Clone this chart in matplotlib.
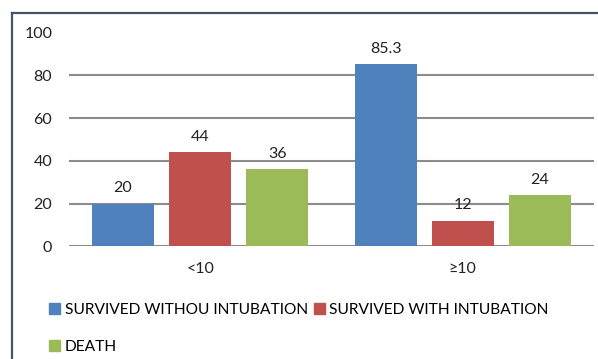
import matplotlib.pyplot as plt
import numpy as np
from matplotlib.patches import Patch

plt.rcParams["font.family"] = ["Lato", "DejaVu Sans"]

# Outcome percentages grouped by score band
groups = ["<10", "\u226510"]
series_names = ["SURVIVED WITHOU INTUBATION", "SURVIVED WITH INTUBATION", "DEATH"]
survived_without = [20, 85.3]
survived_with = [44, 12]
death = [36, 24]
value_labels = [["20", "85.3"], ["44", "12"], ["36", "24"]]
colors = ["#4f81bd", "#c0504d", "#9bbb59"]

FS = 11.5
W, H = 598, 359
fig = plt.figure(figsize=(W / 100, H / 100), dpi=100)
ax = fig.add_axes([69 / W, (H - 246.3) / H, (594 - 69) / W, (246.3 - 32.5) / H])

# frame around the chart area (top and left edges show)
fig.add_artist(plt.Line2D([12 / W, 12 / W], [0, (H - 13) / H], color="#44546a",
                          lw=1.6, transform=fig.transFigure))
fig.add_artist(plt.Line2D([12 / W, 1], [(H - 13) / H, (H - 13) / H], color="#44546a",
                          lw=1.6, transform=fig.transFigure))

x = np.arange(len(groups))
width = 0.236
offsets = [-0.294, 0, 0.294]
for vals, labels, off, col in zip([survived_without, survived_with, death],
                                  value_labels, offsets, colors):
    bars = ax.bar(x + off, vals, width, color=col, zorder=3)
    for b, v, lab in zip(bars, vals, labels):
        ax.annotate(lab, (b.get_x() + b.get_width() / 2, v), xytext=(0, 6),
                    textcoords="offset points", ha="center", va="bottom",
                    fontsize=FS, color="#222222")

ax.set_xlim(-0.5, 1.5)
ax.set_ylim(0, 100)
ax.set_yticks(range(0, 101, 20))
ax.set_xticks(x)
ax.set_xticklabels(groups)
ax.yaxis.grid(True, color="#8c8c8c", lw=1.5, zorder=0)
for s in ax.spines.values():
    s.set_visible(False)
ax.tick_params(axis="both", length=0, labelsize=FS, colors="#222222")
ax.tick_params(axis="y", pad=12)
ax.tick_params(axis="x", pad=11)

handles = [Patch(color=c) for c in colors]
order = [0, 2, 1]
fig.legend([handles[i] for i in order], [series_names[i] for i in order],
           ncol=2, loc="upper left", bbox_to_anchor=(49 / W, (H - 303) / H),
           frameon=False, fontsize=11.2, handlelength=0.7, handleheight=0.7,
           handletextpad=0.3, columnspacing=0.4, labelspacing=1.45,
           borderaxespad=0, borderpad=0)

fig.savefig("out.png", dpi=100)
